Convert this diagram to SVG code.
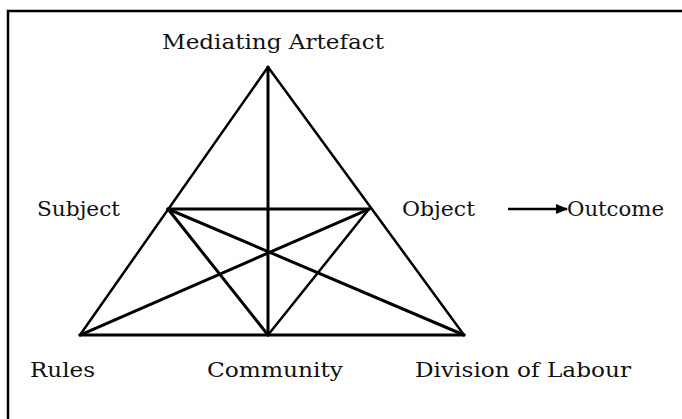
<svg xmlns="http://www.w3.org/2000/svg" width="682" height="419" viewBox="0 0 682 419">
<defs>
<style>
.t{font-family:"DejaVu Serif","Liberation Serif",serif;font-size:20px;fill:#111}
.l{stroke:#000;stroke-width:3;fill:none;stroke-linecap:round;stroke-linejoin:round}
.e{stroke:#000;stroke-width:2.5;fill:none;stroke-linecap:round}
</style>
<marker id="ah" markerWidth="12" markerHeight="12" refX="11" refY="6" orient="auto" markerUnits="userSpaceOnUse" viewBox="0 0 12 12"><path d="M0,1 L12,6 L0,11 z" fill="#000"/></marker>
</defs>
<rect width="682" height="419" fill="#fff"/>
<path d="M8,419 V11 H682" stroke="#000" stroke-width="2.5" fill="none"/>
<g id="connectors">
<line class="e" x1="268" y1="67" x2="80" y2="335"/>
<line class="e" x1="268" y1="67" x2="464" y2="335"/>
<line class="l" x1="80" y1="335" x2="464" y2="335"/>
<line class="l" x1="268" y1="67" x2="268" y2="335"/>
<line class="l" x1="168" y1="209" x2="369" y2="209"/>
<line class="l" x1="168" y1="209" x2="268" y2="335"/>
<line class="e" x1="369" y1="209" x2="268" y2="335"/>
<line class="l" x1="168" y1="209" x2="464" y2="335"/>
<line class="l" x1="369" y1="209" x2="80" y2="335"/>
<line x1="508" y1="209" x2="567" y2="209" stroke="#000" stroke-width="2.5" marker-end="url(#ah)"/>
</g>
<g id="mediating-artefact"><text class="t" x="162" y="49" textLength="222" lengthAdjust="spacingAndGlyphs">Mediating Artefact</text></g>
<g id="subject"><text class="t" x="37" y="216" textLength="83" lengthAdjust="spacingAndGlyphs">Subject</text></g>
<g id="object"><text class="t" x="402" y="216" textLength="73" lengthAdjust="spacingAndGlyphs">Object</text></g>
<g id="outcome"><text class="t" x="567" y="216" textLength="97" lengthAdjust="spacingAndGlyphs">Outcome</text></g>
<g id="rules"><text class="t" x="30" y="377" textLength="65" lengthAdjust="spacingAndGlyphs">Rules</text></g>
<g id="community"><text class="t" x="207" y="377" textLength="136" lengthAdjust="spacingAndGlyphs">Community</text></g>
<g id="division-of-labour"><text class="t" x="415" y="377" textLength="216" lengthAdjust="spacingAndGlyphs">Division of Labour</text></g>
</svg>
